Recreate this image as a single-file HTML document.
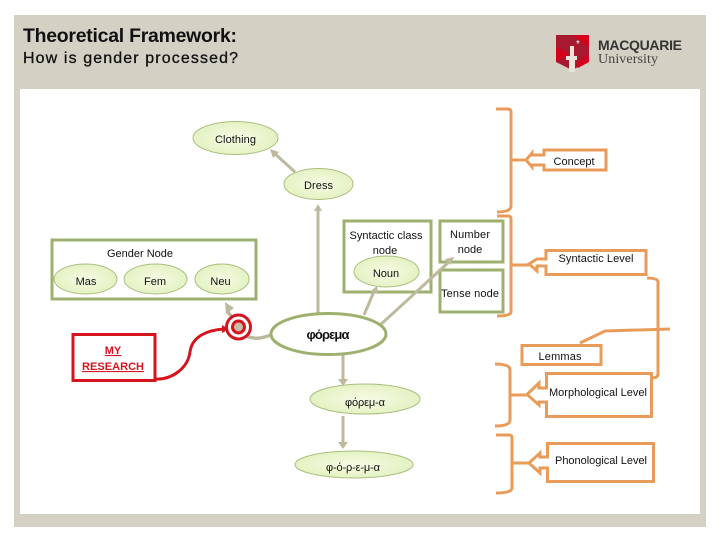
<!DOCTYPE html>
<html><head><meta charset="utf-8"><style>
html,body{margin:0;padding:0;background:#fff}
svg{display:block}
text{font-family:"Liberation Sans",sans-serif;fill:#111;font-size:11px;text-anchor:middle}
.g{fill:#fff;stroke:#9eb070;stroke-width:3}
.e{fill:url(#eg);stroke:#a9bf7f;stroke-width:1}
.o{fill:none;stroke:#e99c5a;stroke-width:3}
.b{fill:#fff;stroke:#e99c5a;stroke-width:3}
.a{fill:none;stroke:#bdb99d;stroke-width:3}
.h{fill:#bdb99d}
</style></head><body>
<svg width="720" height="540" viewBox="0 0 720 540" xmlns="http://www.w3.org/2000/svg">
<defs><radialGradient id="eg" cx="50%" cy="50%" r="60%"><stop offset="0" stop-color="#f6fbe4"/><stop offset="1" stop-color="#e0f0bc"/></radialGradient></defs>
<rect x="14" y="15" width="692" height="512" fill="#d4d1c4"/>
<rect x="20" y="89" width="680" height="425" fill="#fff"/>
<text x="23" y="42" style="text-anchor:start;font-size:19.4px;font-weight:bold" textLength="214">Theoretical Framework:</text>
<text x="23" y="63" style="text-anchor:start;font-size:16px;stroke:#111;stroke-width:.3" textLength="215">How is gender processed?</text>
<!-- logo -->
<path d="M556 35H589V62L572 70L556 62Z" fill="#a6192e"/>
<path d="M572 35H589V47ZM556 47L570 54L556 62ZM578 62L589 54V62L578 68Z" fill="#d6001c"/>
<path d="M570 46H574V56H577V60H575V72H569V60H566V56H570Z" fill="#e8e4da"/>
<text x="578" y="47" style="fill:#fff;font-size:10px">*</text>
<text x="598" y="50" style="text-anchor:start;font-size:14px;font-weight:bold;fill:#333" textLength="84">MACQUARIE</text>
<text x="598" y="63" style="text-anchor:start;font-family:'Liberation Serif',serif;font-size:14px;fill:#444" textLength="60">University</text>
<!-- clothing/dress -->
<path class="a" d="M295 172L273 152"/><path class="h" d="M270 149L279 152L273 158Z"/>
<path class="a" d="M318 313V210"/><path class="h" d="M318 204L322 211H314Z"/>
<ellipse class="e" cx="235.500" cy="138" rx="42.500" ry="16.500"/><text x="235.500" y="143" textLength="41">Clothing</text>
<ellipse class="e" cx="318.500" cy="184" rx="34.500" ry="15.500"/><text x="318.500" y="189" textLength="29">Dress</text>
<!-- green boxes -->
<rect class="g" x="52" y="240" width="204" height="59"/>
<text x="140" y="257" textLength="66">Gender Node</text>
<ellipse class="e" cx="85.500" cy="279" rx="31.500" ry="15"/><text x="86" y="285">Mas</text>
<ellipse class="e" cx="155.500" cy="279" rx="31.500" ry="15"/><text x="155" y="285">Fem</text>
<ellipse class="e" cx="222" cy="279" rx="27" ry="15"/><text x="220.500" y="285">Neu</text>
<rect class="g" x="344" y="221" width="87" height="71"/>
<text x="386" y="239" textLength="73">Syntactic class</text><text x="385" y="254">node</text>
<ellipse class="e" cx="386.500" cy="271.500" rx="32.500" ry="15.500"/><text x="386" y="277">Noun</text>
<rect class="g" x="440" y="221" width="63" height="41"/>
<text x="470" y="238" textLength="40">Number</text><text x="470" y="253">node</text>
<rect class="g" x="440" y="270" width="63" height="42"/>
<text x="470" y="297" textLength="58">Tense node</text>
<!-- arrows over boxes -->
<path class="a" d="M364 315L375 289"/><path class="h" d="M377 286L378 294L371 291Z"/>
<path class="a" d="M378 327L450 261"/><path class="h" d="M454 257L451 265L445 259Z"/>
<path class="a" d="M343 355V381"/><path class="h" d="M343 386L338 379H348Z"/>
<path class="a" d="M343 416V443"/><path class="h" d="M343 449L338 442H348Z"/>
<path d="M271 335C262 338 256 340 246 336L228 312" fill="none" stroke="#bdb99d" stroke-width="3.500"/><path class="h" d="M225 302L234 308L226 314Z"/>
<!-- phorema -->
<ellipse cx="328.500" cy="334" rx="57.500" ry="20.500" fill="#fff" stroke="#9eb070" stroke-width="3"/>
<text x="328" y="339" style="font-size:13px;font-weight:bold" textLength="43">φόρεμα</text>
<ellipse class="e" cx="365" cy="399" rx="55" ry="15"/><text x="365" y="406" textLength="40">φόρεμ-α</text>
<ellipse class="e" cx="354" cy="464.500" rx="59" ry="13.500"/><text x="353" y="471" textLength="54">φ-ό-ρ-ε-μ-α</text>
<!-- research -->
<rect x="73" y="334.500" width="82" height="46" fill="#fff" stroke="#d5141e" stroke-width="3"/>
<text x="113" y="354" style="fill:#d5141e;font-weight:bold;text-decoration:underline;font-size:11px">MY</text>
<text x="113" y="370" style="fill:#d5141e;font-weight:bold;text-decoration:underline;font-size:11px" textLength="62">RESEARCH</text>
<path d="M155 379C172 380 188 368 190 352C192 336 208 330 224 329" fill="none" stroke="#d5141e" stroke-width="3"/>
<path d="M229 329L222 325V333Z" fill="#d5141e"/>
<circle cx="238.500" cy="327" r="12" fill="#fff" stroke="#d5141e" stroke-width="3"/>
<circle cx="238.500" cy="327" r="6" fill="#c9bea5" stroke="#d5141e" stroke-width="3"/>
<!-- brackets -->
<path class="o" d="M496 109H508Q511 109 511 112V206Q511 212 497 212"/>
<path class="o" d="M497 216H508Q511 216 511 219V312Q511 316 497 316"/>
<path class="o" d="M495 364Q510 364 510 370V420Q510 426 495 426"/>
<path class="o" d="M496 435H509Q512 435 512 438V488Q512 493 496 493"/>
<path class="o" d="M511 160H527"/><path class="o" d="M511 265H530"/>
<path class="o" d="M510 395H527"/><path class="o" d="M512 463H529"/>
<!-- orange callouts -->
<rect class="b" x="544" y="150" width="62" height="20"/>
<rect x="541" y="156" width="6" height="8" fill="#fff"/>
<path class="o" d="M545 155H532V153L526 160L532 167V165H545"/>
<text x="574" y="165" textLength="41">Concept</text>
<rect class="b" x="546" y="250.500" width="100" height="24"/>
<rect x="543" y="260" width="6" height="5" fill="#fff"/>
<path class="o" d="M547 259H537L529 264L537 271V266H547"/>
<text x="596" y="262" textLength="75">Syntactic Level</text>
<path class="o" d="M647 278Q658 278 658 282V374Q658 378 651 378"/>
<path class="o" d="M580 343L605 331L670 329"/>
<rect class="b" x="522" y="345.500" width="79" height="19"/>
<text x="560" y="360" textLength="43">Lemmas</text>
<rect class="b" x="546.500" y="373.500" width="105" height="43"/>
<rect x="544" y="389" width="6" height="12" fill="#fff"/>
<path class="o" d="M548 388H539V383L527 394.500L539 405V402H548"/>
<text x="598" y="396" textLength="98">Morphological Level</text>
<rect class="b" x="547.500" y="443.500" width="106" height="38"/>
<rect x="545" y="458" width="6" height="9" fill="#fff"/>
<path class="o" d="M549 457H540V453L529 463L540 473V468H549"/>
<text x="601" y="464" textLength="92">Phonological Level</text>
</svg>
</body></html>
